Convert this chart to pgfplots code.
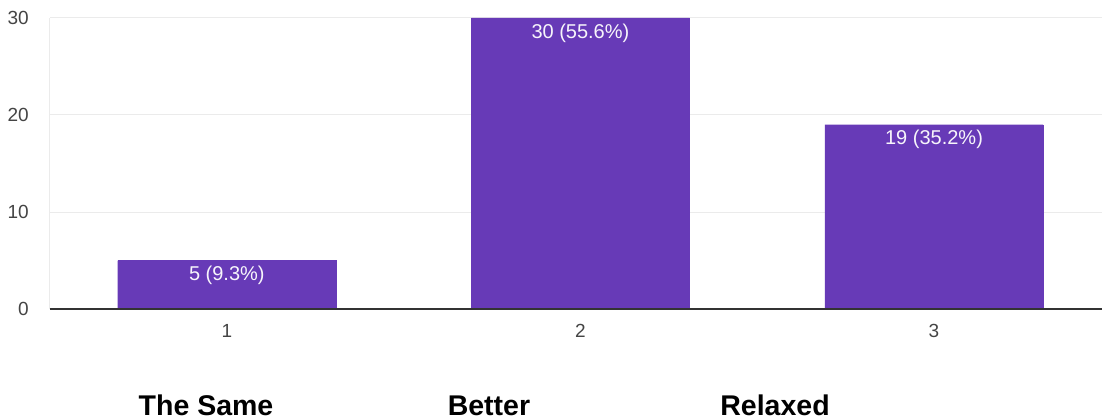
\documentclass[border=0pt]{standalone}
\usepackage{pgfplots}
\usepackage{pgfplotstable}
\pgfplotsset{compat=1.18}
\usepackage{fontspec}
\setmainfont{Liberation Sans}
\definecolor{barpurple}{HTML}{673AB7}
\definecolor{gridc}{HTML}{EBEBEB}
\definecolor{tickc}{HTML}{444444}
\definecolor{axisc}{HTML}{333333}
\pgfplotstableread{
x y lab
1 5 {5 (9.3\%)}
2 30 {30 (55.6\%)}
3 19 {19 (35.2\%)}
}\datatable
\begin{document}
\begin{tikzpicture}
\begin{axis}[
  scale only axis, width=1052bp, height=291bp,
  xmin=0.5, xmax=3.475, ymin=0, ymax=30,
  ybar, bar width=0.617, bar shift=0pt,
  xtick={1,2,3}, ytick={0,10,20,30},
  major tick length=0,
  ymajorgrids, grid style={gridc, line width=1bp},
  axis line style={draw=none},
  clip=false,
  /pgf/number format/assume math mode=true,
  ticklabel style={font=\fontsize{19bp}{22bp}\selectfont, text=tickc, inner sep=0pt},
  yticklabel style={anchor=east, xshift=-21bp},
  xticklabel style={anchor=base, yshift=-28bp},
  nodes near coords,
  point meta=explicit symbolic,
  every node near coord/.append style={anchor=center, yshift=-15bp, text=white!95!barpurple, font=\fontsize{20bp}{22bp}\selectfont},
]
\addplot[fill=barpurple, draw=barpurple] table[x=x, y=y, meta=lab] {\datatable};
\draw[gridc, line width=1bp] (rel axis cs:0,0) -- (rel axis cs:0,1);
\draw[axisc, line width=1.4bp] (rel axis cs:0,0) -- (rel axis cs:1,0);
\coordinate (O) at (rel axis cs:0,0);
\node[anchor=base, font=\fontsize{28.5bp}{30bp}\selectfont\bfseries] at (axis description cs:0.1483,-0.3643) {The Same};
\node[anchor=base, font=\fontsize{28.5bp}{30bp}\selectfont\bfseries] at (axis description cs:0.4173,-0.3643) {Better};
\node[anchor=base, font=\fontsize{28.5bp}{30bp}\selectfont\bfseries] at (axis description cs:0.6892,-0.3643) {Relaxed};
\end{axis}
\pgfresetboundingbox
\path[use as bounding box] (O) ++(-50bp,-110bp) rectangle ++(1102bp,419bp);
\end{tikzpicture}
\end{document}
